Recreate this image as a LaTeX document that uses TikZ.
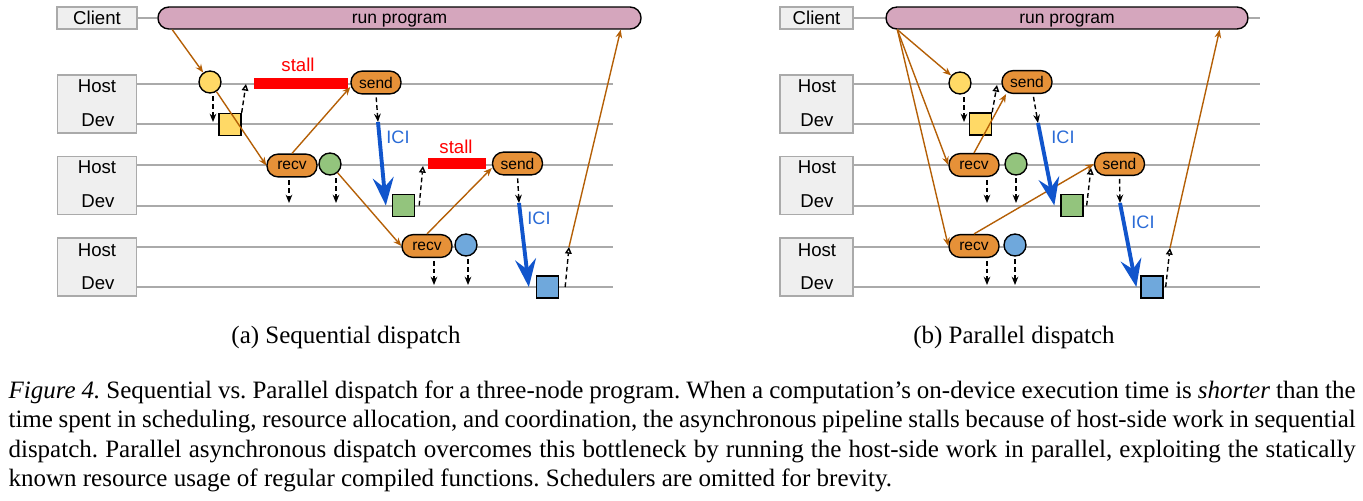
\documentclass[tikz,border=0pt]{standalone}
\usepackage{fontspec}
\setmainfont{Liberation Serif}
\newfontfamily\arialfont{Liberation Sans}
\usetikzlibrary{arrows.meta,calc}
\definecolor{lanegray}{HTML}{AAAAAA}
\definecolor{boxfill}{HTML}{EFEFEF}
\definecolor{runpink}{HTML}{D5A6BD}
\definecolor{oporange}{HTML}{E69138}
\definecolor{yel}{HTML}{FFD966}
\definecolor{grn}{HTML}{93C47D}
\definecolor{blu}{HTML}{6FA8DC}
\definecolor{flowbrown}{HTML}{B45F06}
\definecolor{icib}{HTML}{1155CC}
\definecolor{icilabel}{HTML}{2A6BD6}
\definecolor{stallred}{HTML}{FF0000}
\frenchspacing
\begin{document}
\begin{tikzpicture}[x=0.36pt,y=-0.36pt,
		lane/.style={draw=lanegray,line width=0.72pt},
		lanebox/.style={draw=lanegray,fill=boxfill,line width=0.6pt,inner sep=0pt,minimum height=7.9pt},
		lanetext/.style={font=\arialfont\fontsize{6.7}{8}\selectfont,inner sep=0pt},
		runpill/.style={draw=black,fill=runpink,line width=0.5pt,rounded corners=3.9pt,minimum height=7.9pt,inner sep=0pt,text height=4.7pt,text depth=0.6pt,font=\arialfont\fontsize{6.3}{7}\selectfont},
		oppill/.style={draw=black,fill=oporange,line width=0.5pt,rounded corners=4pt,minimum width=18pt,minimum height=8.2pt,inner sep=0pt,font=\arialfont\fontsize{5.6}{6}\selectfont},
		comp/.style={circle,draw=black,line width=0.5pt,minimum size=7.9pt,inner sep=0pt},
		devbox/.style={rectangle,draw=black,line width=0.5pt,minimum size=7.9pt,inner sep=0pt},
		stallbar/.style={fill=stallred,minimum height=4pt,inner sep=0pt},
		stalltext/.style={text=stallred,font=\arialfont\fontsize{6.7}{8}\selectfont,inner sep=0pt},
		icitext/.style={text=icilabel,font=\arialfont\fontsize{6.5}{8}\selectfont,inner sep=0pt},
		flow/.style={draw=flowbrown,line width=0.5pt,-{Stealth[length=3pt,width=2.4pt]}},
		launch/.style={draw=black,line width=0.5pt,dash pattern=on 1.7pt off 1.1pt,shorten <=1pt,-{Stealth[length=3pt,width=2.4pt]}},
		done/.style={draw=black,line width=0.5pt,dash pattern=on 1.7pt off 1.1pt,-{Triangle[open,length=2.4pt,width=2.4pt]}},
		ici/.style={draw=icib,line width=1.4pt,-{Stealth[length=10pt,width=7.5pt,inset=3.5pt]}},
		subcap/.style={font=\fontsize{9}{10.6}\selectfont,inner sep=0pt}]
	\useasboundingbox (0,0) rectangle (1363,500);
	\node[lanebox,lanetext,minimum width=28.8pt] (s-client) at (97,18) {Client};
	\node[lanebox,minimum width=28.4pt,minimum height=20.9pt] (s-box1) at (97,104) {};
	\node[lanebox,minimum width=28.4pt,minimum height=20.9pt] (s-box2) at (97,185.5) {};
	\node[lanebox,minimum width=28.4pt,minimum height=20.9pt] (s-box3) at (97,267) {};
	\node[lanetext] (s-host1) at (97,86) {Host};
	\node[lanetext] (s-dev1) at (98,120) {Dev};
	\node[lanetext] (s-host2) at (97,167.5) {Host};
	\node[lanetext] (s-dev2) at (98,201.5) {Dev};
	\node[lanetext] (s-host3) at (97,250) {Host};
	\node[lanetext] (s-dev3) at (98,283) {Dev};
	\foreach \y in {84,124,165,206,247,287}
		\draw[lane] (137,\y) -- (613,\y);
	\node[runpill,minimum width=173.9pt] (s-run) at (399.5,18) {run program};
	\draw[lane] (s-client) -- (s-run);
	\node[comp,fill=yel] (s-c1) at (210,82) {};
	\node[devbox,fill=yel] (s-q1) at (230,124.5) {};
	\node[stallbar,minimum width=33.8pt] (s-stall1) at (301,83.5) {};
	\node[stalltext] (s-stall1-t) at (298,65) {stall};
	\node[oppill] (s-send1) at (376,82.5) {send};
	\node[oppill] (s-recv1) at (292,165.5) {recv};
	\node[comp,fill=grn] (s-c2) at (330,164) {};
	\node[devbox,fill=grn] (s-q2) at (403.5,205.5) {};
	\node[stallbar,minimum width=20.9pt] (s-stall2) at (457,163.5) {};
	\node[stalltext] (s-stall2-t) at (456,147) {stall};
	\node[oppill] (s-send2) at (517.5,163.5) {send};
	\node[oppill] (s-recv2) at (427,246) {recv};
	\node[comp,fill=blu] (s-c3) at (466,245) {};
	\node[devbox,fill=blu] (s-q3) at (547.5,287) {};
	\node[icitext] (s-ici1-t) at (398,137) {ICI};
	\node[icitext] (s-ici2-t) at (539,218) {ICI};
	\coordinate (s-l1) at (213,122);
	\coordinate (s-u1) at (246,84);
	\coordinate (s-ici1) at (378,122);
	\coordinate (s-r1) at (289,203);
	\coordinate (s-r2) at (336,203);
	\coordinate (s-u2) at (423,166);
	\coordinate (s-ici2) at (519,203);
	\coordinate (s-r3) at (434,285);
	\coordinate (s-r4) at (468,285);
	\coordinate (s-u3) at (569,247);
	\draw[flow] ($(s-run.south west)+(15,0)$) -- (s-c1);
	\draw[flow] (s-c1) -- (s-recv1.west);
	\draw[flow] (s-recv1.north) -- (s-send1.190);
	\draw[flow] (s-c2) -- (s-recv2.west);
	\draw[flow] (s-recv2.north) -- (s-send2.190);
	\draw[launch] (s-c1.south -| s-l1) -- (s-l1);
	\draw[done] (s-q1.north east) -- (s-u1);
	\draw[launch] (s-recv1.south -| s-r1) -- (s-r1);
	\draw[launch] (s-c2.south -| s-r2) -- (s-r2);
	\draw[launch] (s-send1.south) -- (s-ici1);
	\draw[ici] (s-ici1) -- ($(s-q2.west)+(-6,0)$);
	\draw[done] ($(s-q2.east)+(4,0)$) -- (s-u2);
	\draw[launch] (s-recv2.south -| s-r3) -- (s-r3);
	\draw[launch] (s-c3.south -| s-r4) -- (s-r4);
	\draw[launch] (s-send2.south) -- (s-ici2);
	\draw[ici] (s-ici2) -- ($(s-q3.west)+(-7,0)$);
	\draw[done] ($(s-q3.east)+(6,0)$) -- (s-u3);
	\draw[flow] (s-u3) -- ($(s-run.south east)+(-21,0)$);
	\node[subcap,anchor=base] (s-cap) at (346,343) {(a) Sequential dispatch};
	\node[lanebox,lanetext,minimum width=26.3pt] (p-client) at (816.5,18) {Client};
	\node[lanebox,minimum width=26.3pt,minimum height=20.9pt] (p-box1) at (816.5,104) {};
	\node[lanebox,minimum width=26.3pt,minimum height=20.9pt] (p-box2) at (816.5,185.5) {};
	\node[lanebox,minimum width=26.3pt,minimum height=20.9pt] (p-box3) at (816.5,267) {};
	\node[lanetext] (p-host1) at (817,86) {Host};
	\node[lanetext] (p-dev1) at (817,120) {Dev};
	\node[lanetext] (p-host2) at (817,167.5) {Host};
	\node[lanetext] (p-dev2) at (817,201.5) {Dev};
	\node[lanetext] (p-host3) at (817,250) {Host};
	\node[lanetext] (p-dev3) at (817,283) {Dev};
	\foreach \y in {84,124,165,206,247,287}
		\draw[lane] (853,\y) -- (1260,\y);
	\node[runpill,minimum width=130.3pt] (p-run) at (1067,18) {run program};
	\coordinate (p-end) at (1260,18);
	\draw[lane] (p-client) -- (p-run);
	\draw[lane] (p-run.east) -- (p-end);
	\node[comp,fill=yel] (p-c1) at (960,83) {};
	\node[devbox,fill=yel] (p-q1) at (980.5,124) {};
	\node[oppill] (p-send1) at (1027,82) {send};
	\node[oppill] (p-recv1) at (974,165) {recv};
	\node[comp,fill=grn] (p-c2) at (1016,164) {};
	\node[devbox,fill=grn] (p-q2) at (1072,205.5) {};
	\node[oppill] (p-send2) at (1119.5,164) {send};
	\node[oppill] (p-recv2) at (974,246) {recv};
	\node[comp,fill=blu] (p-c3) at (1015,245) {};
	\node[devbox,fill=blu] (p-q3) at (1152,287) {};
	\node[icitext] (p-ici1-t) at (1063,137) {ICI};
	\node[icitext] (p-ici2-t) at (1143,222) {ICI};
	\coordinate (p-fan) at ($(p-run.south west)+(12,0)$);
	\coordinate (p-l1) at (964,122);
	\coordinate (p-u1) at (997,85);
	\coordinate (p-r1) at (987,203);
	\coordinate (p-r2) at (1016,203);
	\coordinate (p-ici1) at (1038,123);
	\coordinate (p-u2) at (1091,168);
	\coordinate (p-r3) at (987,285);
	\coordinate (p-r4) at (1015,285);
	\coordinate (p-ici2) at (1120,203);
	\coordinate (p-u3) at (1170,248);
	\draw[flow] (p-fan) -- (p-c1);
	\draw[flow] (p-fan) -- (p-recv1.west);
	\draw[flow] (p-fan) -- (p-recv2.west);
	\draw[flow] (p-recv1.north) -- (p-send1.210);
	\draw[flow] (p-recv2.north) -- (p-send2.west);
	\draw[launch] (p-c1.south -| p-l1) -- (p-l1);
	\draw[done] (p-q1.north east) -- (p-u1);
	\draw[launch] (p-recv1.south -| p-r1) -- (p-r1);
	\draw[launch] (p-c2.south -| p-r2) -- (p-r2);
	\draw[launch] ($(p-send1.south)+(6,0)$) -- (p-ici1);
	\draw[ici] (p-ici1) -- ($(p-q2.west)+(-6,0)$);
	\draw[done] ($(p-q2.east)+(3,0)$) -- (p-u2);
	\draw[launch] (p-recv2.south -| p-r3) -- (p-r3);
	\draw[launch] (p-c3.south -| p-r4) -- (p-r4);
	\draw[launch] (p-send2.south) -- (p-ici2);
	\draw[ici] (p-ici2) -- ($(p-q3.west)+(-4,0)$);
	\draw[done] ($(p-q3.east)+(2,0)$) -- (p-u3);
	\draw[flow] (p-u3) -- ($(p-run.south east)+(-29,0)$);
	\node[subcap,anchor=base] (p-cap) at (1014,343) {(b) Parallel dispatch};
	\node[anchor=base west,text width=485pt,align=justify,inner sep=0pt,font=\fontsize{9}{10.62}\selectfont] (caption) at (8,398) {\textit{Figure 4.} Sequential vs.\ Parallel dispatch for a three-node program. When a computation's on-device execution time is \textit{shorter} than the\linebreak time spent in scheduling, resource allocation, and coordination, the asynchronous pipeline stalls because of host-side work in sequential\linebreak dispatch. Parallel asynchronous dispatch overcomes this bottleneck by running the host-side work in parallel, exploiting the statically\linebreak known resource usage of regular compiled functions. Schedulers are omitted for brevity.};
\end{tikzpicture}
\end{document}
